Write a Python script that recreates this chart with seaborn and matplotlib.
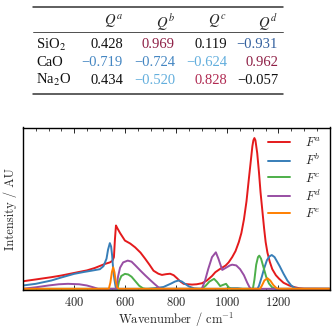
import matplotlib
matplotlib.use("Agg")
import matplotlib.pyplot as plt
from matplotlib.lines import Line2D
from matplotlib.ticker import FixedLocator, MultipleLocator
import pandas as pd
import seaborn as sns

# table values
OXIDES = [r"SiO$_2$", "CaO", r"Na$_2$O"]
Q_HEADERS = [r"$Q^a$", r"$Q^b$", r"$Q^c$", r"$Q^d$"]
SIO2_Q = [0.428, 0.969, 0.119, -0.931]
CAO_Q = [-0.719, -0.724, -0.624, 0.962]
NA2O_Q = [0.434, -0.520, 0.828, -0.057]

# spectra (wavenumber, intensity normalised to F^a peak)
FA_X = [200, 250, 311, 350, 400, 450, 481, 521, 540, 550, 556, 560, 564, 570, 580, 599,
        620, 639, 660, 678, 695, 711, 730, 744, 760, 776, 790, 803, 815, 829, 845,
        862, 880, 901, 920, 940, 953, 970, 993, 1005, 1019, 1032, 1045, 1055, 1065,
        1075, 1084, 1092, 1098, 1102, 1106, 1110, 1117, 1124, 1130, 1137, 1144, 1150,
        1157, 1166, 1176, 1190, 1203, 1220, 1242, 1260, 1281, 1300, 1400]
FA_Y = [0.050, 0.062, 0.077, 0.088, 0.105, 0.122, 0.138, 0.165, 0.175, 0.185, 0.21,
        0.33, 0.42, 0.40, 0.37, 0.32, 0.30, 0.275, 0.24, 0.20, 0.16, 0.12, 0.10,
        0.092, 0.097, 0.10, 0.09, 0.07, 0.05, 0.033, 0.03, 0.028, 0.03, 0.037, 0.055,
        0.085, 0.11, 0.13, 0.154, 0.175, 0.21, 0.25, 0.31, 0.37, 0.46, 0.58, 0.725,
        0.85, 0.945, 0.985, 1.0, 0.985, 0.90, 0.77, 0.64, 0.52, 0.40, 0.31, 0.24, 0.18,
        0.13, 0.09, 0.066, 0.04, 0.022, 0.012, 0.004, 0.001, 0.0]

FB_X = [200, 250, 311, 350, 400, 440, 468, 501, 515, 527, 533, 540, 545, 549, 553,
        558, 563, 570, 690, 720, 750, 780, 795, 809, 822, 835, 850, 870, 890, 990,
        1010, 1040, 1060, 1118, 1124, 1135, 1145, 1155, 1165, 1174, 1185, 1195, 1205,
        1220, 1235, 1250, 1265, 1280, 1400]
FB_Y = [0.022, 0.033, 0.055, 0.075, 0.099, 0.112, 0.12, 0.13, 0.15, 0.20, 0.26,
        0.303, 0.28, 0.22, 0.13, 0.06, 0.01, 0.0, 0.0, 0.005, 0.012, 0.035, 0.048,
        0.055, 0.048, 0.032, 0.015, 0.003, 0.0, 0.0, 0.004, 0.004, 0.0, 0.0, 0.02,
        0.08, 0.14, 0.19, 0.215, 0.224, 0.21, 0.18, 0.15, 0.10, 0.055, 0.022, 0.005,
        0.0, 0.0]

FC_X = [200, 570, 576, 585, 599, 612, 625, 640, 655, 670, 680, 900, 915, 930, 948,
        960, 972, 982, 995, 1005, 1015, 1100, 1106, 1113, 1120, 1125, 1132, 1142,
        1152, 1163, 1175, 1190, 1400]
FC_Y = [0.0, 0.0, 0.05, 0.085, 0.099, 0.095, 0.08, 0.05, 0.02, 0.003, 0.0, 0.0,
        0.02, 0.048, 0.066, 0.045, 0.018, 0.025, 0.033, 0.01, 0.0, 0.0, 0.06, 0.16,
        0.21, 0.22, 0.20, 0.14, 0.08, 0.035, 0.01, 0.0, 0.0]

FD_X = [200, 250, 300, 340, 376, 420, 450, 475, 494, 566, 572, 580, 592, 610, 625,
        640, 660, 678, 700, 715, 730, 740, 900, 912, 925, 940, 955, 965, 980, 995,
        1010, 1019, 1035, 1050, 1065, 1078, 1087, 1092, 1400]
FD_Y = [0.0, 0.01, 0.022, 0.03, 0.033, 0.03, 0.022, 0.01, 0.0, 0.0, 0.08, 0.14,
        0.175, 0.187, 0.18, 0.155, 0.12, 0.09, 0.055, 0.032, 0.01, 0.0, 0.0, 0.05,
        0.13, 0.21, 0.242, 0.2, 0.125, 0.14, 0.155, 0.16, 0.155, 0.13, 0.09, 0.04,
        0.01, 0.0, 0.0]

FE_X = [200, 536, 542, 548, 553, 558, 563, 568, 575, 1128, 1135, 1145, 1157, 1168,
        1180, 1192, 1200, 1400]
FE_Y = [0.0, 0.0, 0.04, 0.11, 0.143, 0.11, 0.05, 0.012, 0.0, 0.0, 0.02, 0.055,
        0.07, 0.055, 0.025, 0.005, 0.0, 0.0]

LABELS = [r"$F^a$", r"$F^b$", r"$F^c$", r"$F^d$", r"$F^e$"]
XTICKS = [400, 600, 800, 1000, 1200]


def cell_color(v):
    if v > 0.9:
        return "#8e1f45"
    if v > 0.5:
        return "#b02a52"
    if v < -0.9:
        return "#33609e"
    if v < -0.7:
        return "#4486c2"
    if v < -0.5:
        return "#62aedd"
    return "#111111"


def main():
    sns.set_theme(style="ticks")
    plt.rcParams["font.family"] = "serif"
    plt.rcParams["font.serif"] = ["cmr10"]
    plt.rcParams["mathtext.fontset"] = "cm"
    plt.rcParams["axes.formatter.use_mathtext"] = True

    W, H = 333, 329
    fig = plt.figure(figsize=(W / 100, H / 100), dpi=100)

    def fx(px):
        return px / W

    def fy(py):
        return 1 - py / H

    # --- table (Times-like font) ---
    tkw = dict(fontsize=10.5, family="Liberation Serif", math_fontfamily="stix")
    for y, lw in [(7, 1.1), (32, 0.6), (94, 1.1)]:
        fig.add_artist(Line2D([fx(33), fx(283)], [fy(y), fy(y)],
                              transform=fig.transFigure, color="#333333", lw=lw))
    col_right = [123, 175, 227, 278]
    for x, h in zip(col_right, Q_HEADERS):
        fig.text(fx(x), fy(21), h, ha="right", va="center", **tkw)
    rows = [SIO2_Q, CAO_Q, NA2O_Q]
    for y, name, vals in zip([45, 63, 80], OXIDES, rows):
        fig.text(fx(36), fy(y), name, ha="left", va="center", color="#111111", **tkw)
        for x, v in zip(col_right, vals):
            fig.text(fx(x), fy(y), f"{v:.3f}".replace("-", "\u2212"), ha="right",
                     va="center", color=cell_color(v), **tkw)

    # --- spectra ---
    frames = []
    for lab, xs, ys in zip(LABELS, [FA_X, FB_X, FC_X, FD_X, FE_X],
                           [FA_Y, FB_Y, FC_Y, FD_Y, FE_Y]):
        frames.append(pd.DataFrame({"wavenumber": xs, "intensity": ys,
                                    "component": lab}))
    df = pd.concat(frames, ignore_index=True)

    ax = fig.add_axes([fx(23), fy(290), fx(329.5) - fx(23), fy(127.5) - fy(290)])
    sns.lineplot(data=df, x="wavenumber", y="intensity", hue="component",
                 hue_order=LABELS, palette=sns.color_palette("Set1", 5),
                 estimator=None, sort=False, linewidth=1.4, ax=ax)

    ax.set_xlim(200, 1400)
    ax.set_ylim(-0.008, 1.07)
    ax.xaxis.set_major_locator(FixedLocator(XTICKS))
    ax.xaxis.set_minor_locator(MultipleLocator(50))
    ax.set_yticks([])
    ax.tick_params(axis="x", which="both", direction="in", top=True,
                   labelsize=9, pad=4)
    ax.tick_params(axis="x", which="major", length=3.5, width=0.7)
    ax.tick_params(axis="x", which="minor", length=1.8, width=0.6)
    for s in ax.spines.values():
        s.set_linewidth(1.0)
        s.set_color("black")
    ax.set_xlabel(r"Wavenumber / cm$^{-1}$", fontsize=9, labelpad=2)
    ax.set_ylabel("Intensity / AU", fontsize=9, labelpad=4)

    leg = ax.legend(loc="upper right", frameon=False, fontsize=9,
                    handlelength=1.7, handletextpad=1.2, labelspacing=0.3,
                    borderaxespad=0.3)
    for line in leg.get_lines():
        line.set_linewidth(1.4)

    fig.savefig("out.png", dpi=100)
    plt.close(fig)


if __name__ == "__main__":
    main()
